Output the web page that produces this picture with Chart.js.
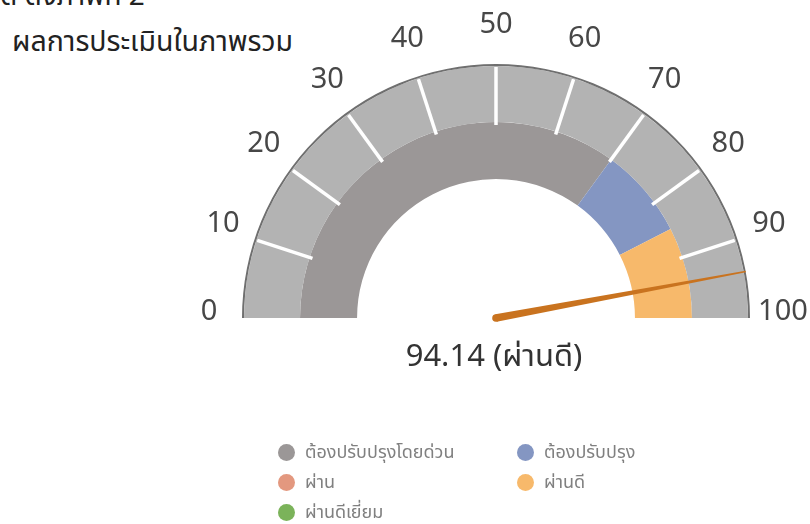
<!DOCTYPE html>
<html>
<head>
<meta charset="utf-8">
<script src="https://cdn.jsdelivr.net/npm/chart.js@4.4.1/dist/chart.umd.min.js"></script>
<style>
html,body{margin:0;padding:0;background:#fff;width:810px;height:524px;overflow:hidden;}
body{position:relative;font-family:"Noto Sans Thai","Noto Sans","Tahoma",sans-serif;}
#c{position:absolute;left:0;top:0;}
#top{position:absolute;left:0px;top:-25px;font-size:28px;color:#222;white-space:nowrap;}
#title{position:absolute;left:12px;top:21px;font-size:28.5px;color:#222;white-space:nowrap;}
#value{position:absolute;left:344px;width:300px;top:333px;text-align:center;font-size:31px;color:#333;white-space:nowrap;}
#legend{position:absolute;left:278px;top:442px;display:grid;grid-template-columns:239px auto;row-gap:10px;font-size:18px;color:#808080;}
.item{display:flex;align-items:center;height:20px;white-space:nowrap;}
.dot{width:17px;height:17px;border-radius:50%;margin-right:10px;flex:none;}
</style>
</head>
<body>
<div id="top">ดี ดังภาพที่ 2</div>
<div id="title">ผลการประเมินในภาพรวม</div>
<canvas id="c" width="810" height="524"></canvas>
<div id="value"></div>
<div id="legend"></div>
<script>
// ---- data ----
const scaleMin = 0;
const scaleMax = 100;
const tickValues = [0, 10, 20, 30, 40, 50, 60, 70, 80, 90, 100];
const tickLabels = ['0', '10', '20', '30', '40', '50', '60', '70', '80', '90', '100'];
const bandNames = ['ต้องปรับปรุงโดยด่วน', 'ต้องปรับปรุง', 'ผ่าน', 'ผ่านดี', 'ผ่านดีเยี่ยม'];
const bandValues = [70, 15, 0, 15, 0];
const bandColors = ['#9b9797', '#8496c2', '#e3987f', '#f7b96b', '#7bb35a'];
const score = 94.14;
const scoreLabel = 'ผ่านดี';

// ---- derived ----
const ringSegments = tickValues.slice(1).map((v, i) => v - tickValues[i]);

const gaugePlugin = {
  id: 'gauge',
  afterDatasetsDraw(chart) {
    const ctx = chart.ctx;
    const arcs = chart.getDatasetMeta(1).data;
    const cx = arcs[0].x, cy = arcs[0].y;
    const oR = arcs[0].outerRadius, iR = arcs[0].innerRadius;
    const start = arcs[0].startAngle, end = arcs[arcs.length - 1].endAngle;
    ctx.save();
    // tick marks at segment boundaries
    ctx.strokeStyle = '#ffffff';
    ctx.lineWidth = 3.5;
    for (let i = 1; i < arcs.length; i++) {
      const a = arcs[i].startAngle;
      ctx.beginPath();
      ctx.moveTo(cx + Math.cos(a) * (iR - 3), cy + Math.sin(a) * (iR - 3));
      ctx.lineTo(cx + Math.cos(a) * (oR - 1), cy + Math.sin(a) * (oR - 1));
      ctx.stroke();
    }
    // tick labels
    ctx.fillStyle = '#474747';
    ctx.font = '29px "Noto Sans", sans-serif';
    ctx.textAlign = 'center';
    ctx.textBaseline = 'middle';
    const outline = chart.getDatasetMeta(0).data[0];
    const lr = outline.outerRadius + 33;
    tickValues.forEach((v, i) => {
      const a = start + (v - scaleMin) / (scaleMax - scaleMin) * (end - start);
      ctx.fillText(tickLabels[i], cx + Math.cos(a) * lr, cy + Math.sin(a) * lr - 6);
    });
    // needle
    const na = start + (score - scaleMin) / (scaleMax - scaleMin) * (end - start);
    const len = outline.outerRadius;
    const px = -Math.sin(na), py = Math.cos(na);
    const tx = cx + Math.cos(na) * len, ty = cy + Math.sin(na) * len;
    const w0 = 3.8, w1 = 0.7;
    ctx.fillStyle = '#c9731f';
    ctx.beginPath();
    ctx.moveTo(cx + px * w0, cy + py * w0);
    ctx.lineTo(tx + px * w1, ty + py * w1);
    ctx.lineTo(tx - px * w1, ty - py * w1);
    ctx.lineTo(cx - px * w0, cy - py * w0);
    ctx.closePath();
    ctx.fill();
    ctx.beginPath();
    ctx.arc(cx, cy, w0, 0, Math.PI * 2);
    ctx.fill();
    ctx.restore();
  }
};

new Chart(document.getElementById('c'), {
  type: 'doughnut',
  data: {
    labels: bandNames,
    datasets: [
      { data: [scaleMax - scaleMin], backgroundColor: ['#6f6f6f'], borderWidth: 0, weight: 2 },
      { data: ringSegments, backgroundColor: '#b3b3b3', borderWidth: 0, weight: 56 },
      { data: bandValues, backgroundColor: bandColors, borderWidth: 0, weight: 57 }
    ]
  },
  options: {
    responsive: false,
    animation: false,
    rotation: -90,
    circumference: 180,
    cutout: '54.7%',
    layout: { padding: { left: 242, right: 60, top: 64, bottom: 206 } },
    plugins: { legend: { display: false }, tooltip: { enabled: false } }
  },
  plugins: [gaugePlugin]
});

document.getElementById('value').textContent = score.toFixed(2) + ' (' + scoreLabel + ')';
const legend = document.getElementById('legend');
bandNames.forEach((n, i) => {
  const it = document.createElement('div');
  it.className = 'item';
  const d = document.createElement('span');
  d.className = 'dot';
  d.style.background = bandColors[i];
  const t = document.createElement('span');
  t.textContent = n;
  it.appendChild(d); it.appendChild(t);
  legend.appendChild(it);
});
</script>
</body>
</html>
